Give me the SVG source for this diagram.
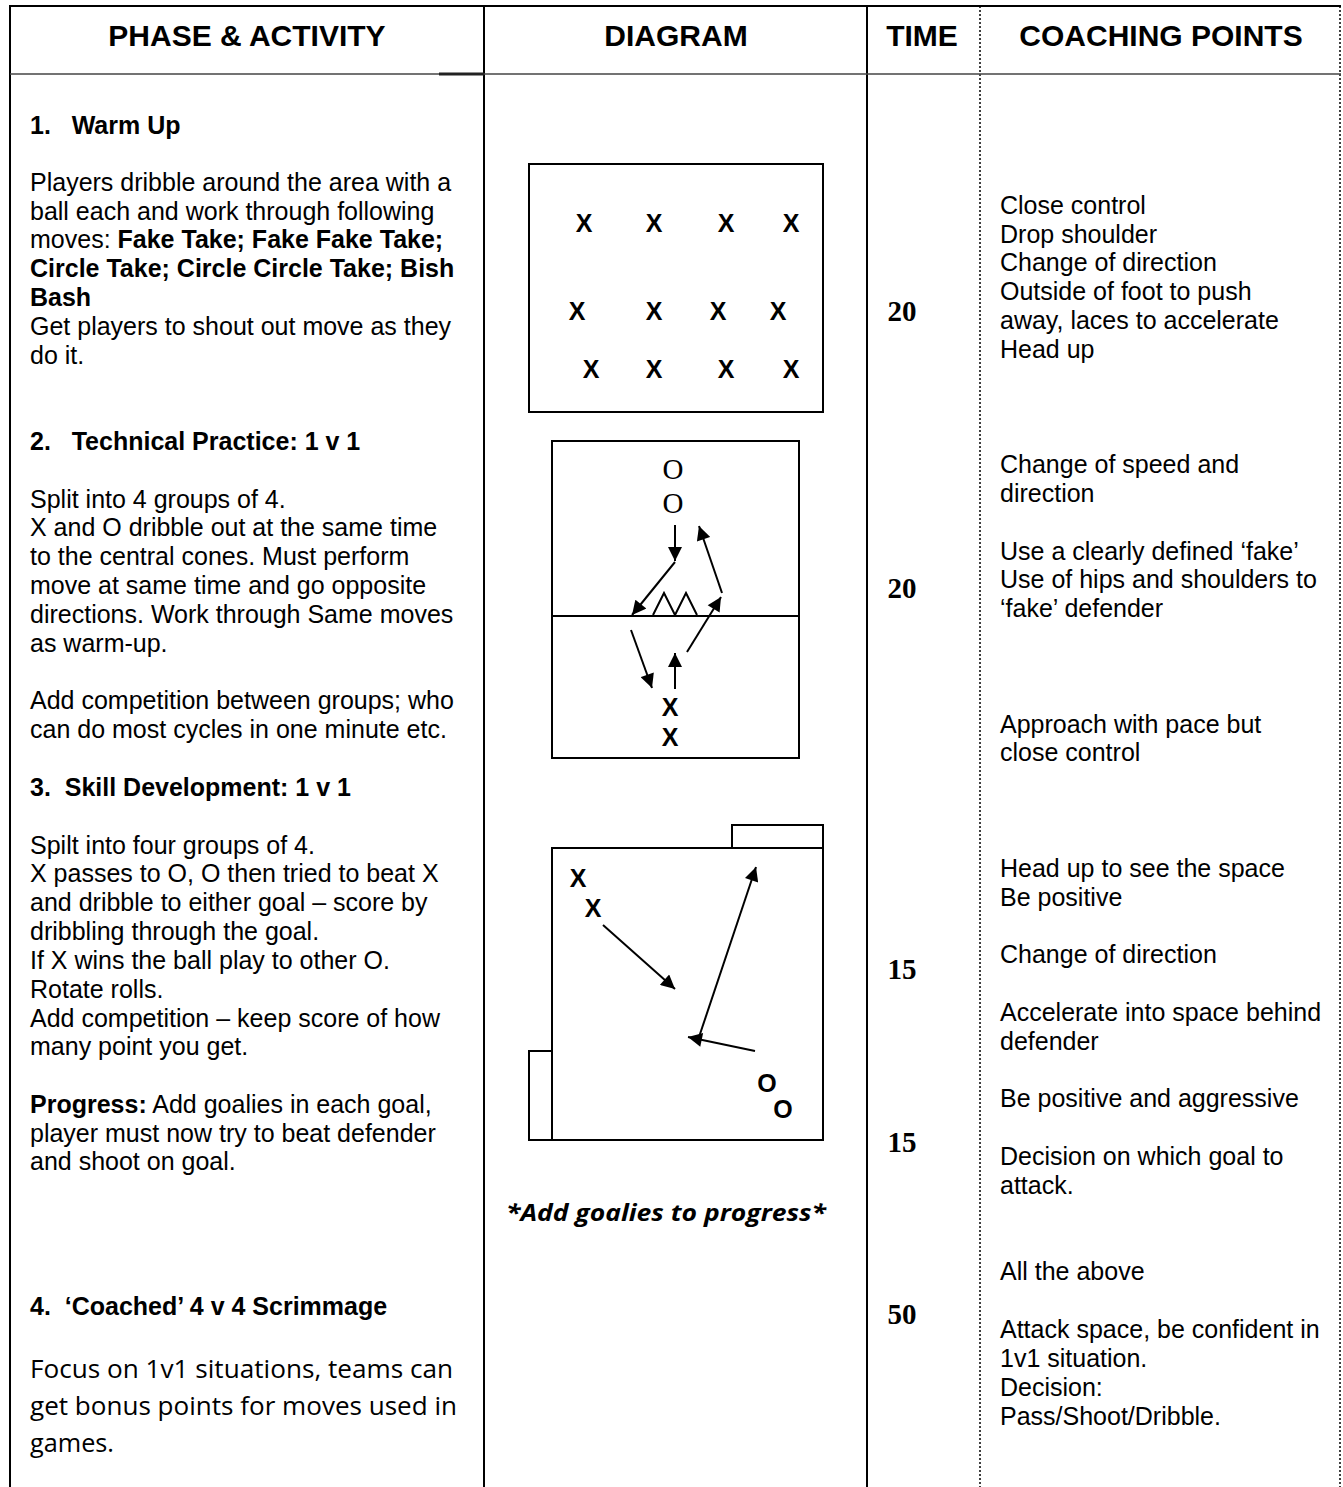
<svg xmlns="http://www.w3.org/2000/svg" width="1343" height="1487" viewBox="0 0 1343 1487">
<style>
.hd{font-family:"Liberation Sans",Arial,sans-serif;font-weight:bold;font-size:30px;text-anchor:middle;fill:#000}
.t{font-family:"Liberation Sans",Arial,sans-serif;font-size:25px;fill:#000}
.b{font-weight:bold}
.tm{font-family:"Liberation Serif","Times New Roman",serif;font-weight:bold;font-size:29px;text-anchor:middle;fill:#000}
.cal{font-family:"Open Sans","Noto Sans",sans-serif;font-size:26px;fill:#000}
.px{font-family:"Liberation Sans",Arial,sans-serif;font-weight:bold;font-size:25px;text-anchor:middle;fill:#000}
.po{font-family:"Liberation Serif","Times New Roman",serif;font-size:29px;text-anchor:middle;fill:#000}
.grid{stroke:#000;stroke-width:2;fill:none}
.dot{stroke:#000;stroke-width:1.5;stroke-dasharray:2 2;fill:none}
.box{stroke:#000;stroke-width:2;fill:none}
.arr{stroke:#000;stroke-width:2;fill:none;marker-end:url(#ah)}
</style>
<defs>
<marker id="ah" viewBox="0 0 10 10" refX="10" refY="5" markerWidth="15" markerHeight="14" markerUnits="userSpaceOnUse" orient="auto">
<path d="M0,0 L10,5 L0,10 z" fill="#000"/>
</marker>
</defs>
<rect width="1343" height="1487" fill="#fff"/>
<g id="table">
<line class="grid" x1="10" y1="6" x2="1341" y2="6"/>
<line class="grid" x1="10" y1="5" x2="10" y2="1487"/>
<line class="grid" x1="484" y1="6" x2="484" y2="1487"/>
<line class="grid" x1="867" y1="6" x2="867" y2="1487"/>
<line class="dot" x1="980" y1="6" x2="980" y2="1487"/>
<line class="dot" x1="1340" y1="6" x2="1340" y2="1487"/>
<line stroke="#444" stroke-width="1.5" x1="10" y1="74" x2="1341" y2="74"/>
<line stroke="#222" stroke-width="3" x1="439" y1="74" x2="484" y2="74"/>
</g>
<g id="header">
<text class="hd" x="247" y="46">PHASE &amp; ACTIVITY</text>
<text class="hd" x="676" y="46">DIAGRAM</text>
<text class="hd" x="922" y="46">TIME</text>
<text class="hd" x="1161" y="46">COACHING POINTS</text>
</g>
<g id="phase">
<text class="t b" x="30" y="134" xml:space="preserve">1.   Warm Up</text>
<text class="t" x="30" y="191">Players dribble around the area with a</text>
<text class="t" x="30" y="220">ball each and work through following</text>
<text class="t" x="30" y="248">moves: <tspan class="b">Fake Take; Fake Fake Take;</tspan></text>
<text class="t b" x="30" y="277">Circle Take; Circle Circle Take; Bish</text>
<text class="t b" x="30" y="306">Bash</text>
<text class="t" x="30" y="335">Get players to shout out move as they</text>
<text class="t" x="30" y="364">do it.</text>
<text class="t b" x="30" y="450" xml:space="preserve">2.   Technical Practice: 1 v 1</text>
<text class="t" x="30" y="508">Split into 4 groups of 4.</text>
<text class="t" x="30" y="536">X and O dribble out at the same time</text>
<text class="t" x="30" y="565">to the central cones. Must perform</text>
<text class="t" x="30" y="594">move at same time and go opposite</text>
<text class="t" x="30" y="623">directions. Work through Same moves</text>
<text class="t" x="30" y="652">as warm-up.</text>
<text class="t" x="30" y="709">Add competition between groups; who</text>
<text class="t" x="30" y="738">can do most cycles in one minute etc.</text>
<text class="t b" x="30" y="796" xml:space="preserve">3.  Skill Development: 1 v 1</text>
<text class="t" x="30" y="854">Spilt into four groups of 4.</text>
<text class="t" x="30" y="882">X passes to O, O then tried to beat X</text>
<text class="t" x="30" y="911">and dribble to either goal – score by</text>
<text class="t" x="30" y="940">dribbling through the goal.</text>
<text class="t" x="30" y="969">If X wins the ball play to other O.</text>
<text class="t" x="30" y="998">Rotate rolls.</text>
<text class="t" x="30" y="1027">Add competition – keep score of how</text>
<text class="t" x="30" y="1055">many point you get.</text>
<text class="t" x="30" y="1113"><tspan class="b">Progress:</tspan> Add goalies in each goal,</text>
<text class="t" x="30" y="1142">player must now try to beat defender</text>
<text class="t" x="30" y="1170">and shoot on goal.</text>
<text class="t b" x="30" y="1315" xml:space="preserve">4.  ‘Coached’ 4 v 4 Scrimmage</text>
<text class="cal" x="30" y="1378" textLength="423" lengthAdjust="spacingAndGlyphs">Focus on 1v1 situations, teams can</text>
<text class="cal" x="30" y="1415" textLength="427" lengthAdjust="spacingAndGlyphs">get bonus points for moves used in</text>
<text class="cal" x="30" y="1452" textLength="84" lengthAdjust="spacingAndGlyphs">games.</text>
</g>
<g id="diagram1">
<rect class="box" x="529" y="164" width="294" height="248"/>
<text class="px" x="584" y="232">X</text>
<text class="px" x="654" y="232">X</text>
<text class="px" x="726" y="232">X</text>
<text class="px" x="791" y="232">X</text>
<text class="px" x="577" y="320">X</text>
<text class="px" x="654" y="320">X</text>
<text class="px" x="718" y="320">X</text>
<text class="px" x="778" y="320">X</text>
<text class="px" x="591" y="378">X</text>
<text class="px" x="654" y="378">X</text>
<text class="px" x="726" y="378">X</text>
<text class="px" x="791" y="378">X</text>
</g>
<g id="diagram2">
<rect class="box" x="552" y="441" width="247" height="317"/>
<line class="box" x1="552" y1="616" x2="799" y2="616"/>
<text class="po" x="673" y="479">O</text>
<text class="po" x="673" y="513">O</text>
<text class="px" x="670" y="716">X</text>
<text class="px" x="670" y="746">X</text>
<polyline class="box" points="653,615 664,593 675,615 686,593 697,615"/>
</g>
<g id="diagram3">
<rect class="box" x="552" y="848" width="271" height="292"/>
<rect class="box" x="732" y="825" width="91" height="23"/>
<rect class="box" x="529" y="1051" width="23" height="89"/>
<text class="px" x="578" y="887">X</text>
<text class="px" x="593" y="917">X</text>
<text class="px" x="767" y="1092">O</text>
<text class="px" x="783" y="1118">O</text>
</g>
<g id="connectors">
<line class="arr" x1="675" y1="525" x2="675" y2="561"/>
<line class="arr" x1="675" y1="562" x2="632" y2="615"/>
<line class="arr" x1="722" y1="593" x2="699" y2="526"/>
<line class="arr" x1="687" y1="652" x2="721" y2="597"/>
<line class="arr" x1="631" y1="630" x2="652" y2="688"/>
<line class="arr" x1="675" y1="689" x2="675" y2="653"/>
<line class="arr" x1="603" y1="925" x2="675" y2="989"/>
<line class="arr" x1="755" y1="1051" x2="688" y2="1037"/>
<line class="arr" x1="697" y1="1043" x2="756" y2="867"/>
</g>
<g id="caption">
<text x="666" y="1221" font-family="'Open Sans','Noto Sans',sans-serif" font-weight="bold" font-style="italic" font-size="24" text-anchor="middle" textLength="320" lengthAdjust="spacingAndGlyphs">*Add goalies to progress*</text>
</g>
<g id="time">
<text class="tm" x="902" y="321">20</text>
<text class="tm" x="902" y="598">20</text>
<text class="tm" x="902" y="979">15</text>
<text class="tm" x="902" y="1152">15</text>
<text class="tm" x="902" y="1324">50</text>
</g>
<g id="coaching">
<text class="t" x="1000" y="214">Close control</text>
<text class="t" x="1000" y="243">Drop shoulder</text>
<text class="t" x="1000" y="271">Change of direction</text>
<text class="t" x="1000" y="300">Outside of foot to push</text>
<text class="t" x="1000" y="329">away, laces to accelerate</text>
<text class="t" x="1000" y="358">Head up</text>
<text class="t" x="1000" y="473">Change of speed and</text>
<text class="t" x="1000" y="502">direction</text>
<text class="t" x="1000" y="560">Use a clearly defined ‘fake’</text>
<text class="t" x="1000" y="588">Use of hips and shoulders to</text>
<text class="t" x="1000" y="617">‘fake’ defender</text>
<text class="t" x="1000" y="733">Approach with pace but</text>
<text class="t" x="1000" y="761">close control</text>
<text class="t" x="1000" y="877">Head up to see the space</text>
<text class="t" x="1000" y="906">Be positive</text>
<text class="t" x="1000" y="963">Change of direction</text>
<text class="t" x="1000" y="1021">Accelerate into space behind</text>
<text class="t" x="1000" y="1050">defender</text>
<text class="t" x="1000" y="1107">Be positive and aggressive</text>
<text class="t" x="1000" y="1165">Decision on which goal to</text>
<text class="t" x="1000" y="1194">attack.</text>
<text class="t" x="1000" y="1280">All the above</text>
<text class="t" x="1000" y="1338">Attack space, be confident in</text>
<text class="t" x="1000" y="1367">1v1 situation.</text>
<text class="t" x="1000" y="1396">Decision:</text>
<text class="t" x="1000" y="1425">Pass/Shoot/Dribble.</text>
</g>
</svg>
